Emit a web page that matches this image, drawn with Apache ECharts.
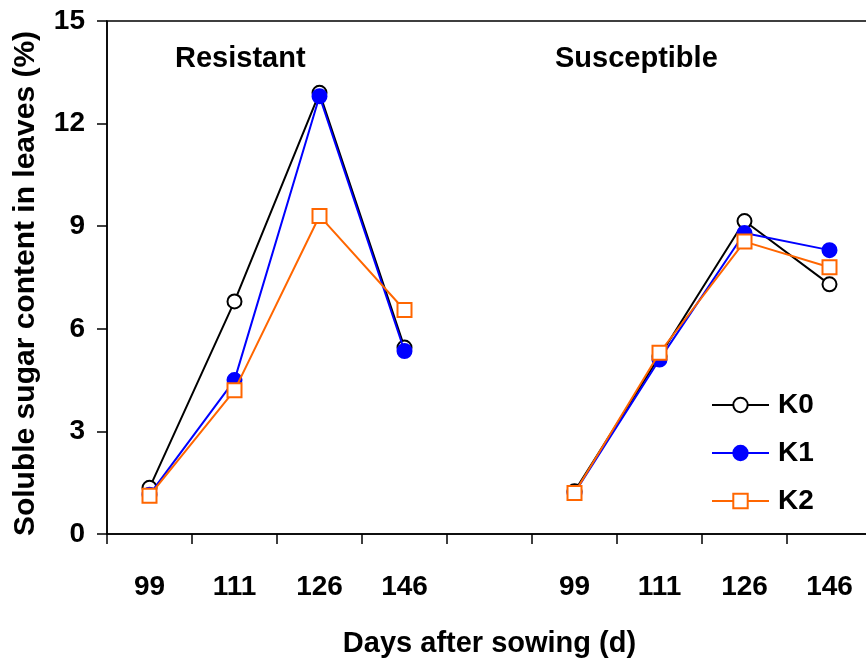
<!DOCTYPE html>
<html>
<head>
<meta charset="utf-8">
<script src="https://cdn.jsdelivr.net/npm/echarts@6/dist/echarts.min.js"></script>
<style>
html,body{margin:0;padding:0;background:#fff;}
#chart{width:866px;height:662px;}
</style>
</head>
<body>
<div id="chart"></div>
<script>
// Days after sowing; empty slot separates the two cultivar groups
const categories = ['99', '111', '126', '146', '', '99', '111', '126', '146'];
const seriesNames = ['K0', 'K1', 'K2'];
const groupLabels = ['Resistant', 'Susceptible'];

// Resistant cultivar
const resistantK0 = [1.35, 6.8, 12.9, 5.45];
const resistantK1 = [1.15, 4.5, 12.8, 5.35];
const resistantK2 = [1.12, 4.2, 9.3, 6.55];

// Susceptible cultivar
const susceptibleK0 = [1.25, 5.2, 9.15, 7.3];
const susceptibleK1 = [1.2, 5.1, 8.8, 8.3];
const susceptibleK2 = [1.2, 5.3, 8.55, 7.8];

const yTicks = [0, 3, 6, 9, 12, 15];

const FONT = '"Liberation Sans", Arial, sans-serif';

function join(a, b) { return a.concat([null], b); }

const styles = [
  {symbol: 'emptyCircle', color: '#000000'},
  {symbol: 'circle', color: '#0000ff'},
  {symbol: 'emptyRect', color: '#ff6600'}
];
const values = [
  join(resistantK0, susceptibleK0),
  join(resistantK1, susceptibleK1),
  join(resistantK2, susceptibleK2)
];

const chart = echarts.init(document.getElementById('chart'), null, {renderer: 'canvas'});
chart.setOption({
  animation: false,
  backgroundColor: '#fff',
  grid: {
    left: 107, top: 21, width: 765, bottom: 128,
    outerBoundsMode: 'none',
    containLabel: false,
    show: true, borderColor: '#000', borderWidth: 1.5, backgroundColor: 'transparent'
  },
  xAxis: {
    type: 'category',
    data: categories,
    boundaryGap: true,
    axisLine: {lineStyle: {color: '#000', width: 1.5}},
    axisTick: {show: true, length: 10, inside: false, lineStyle: {color: '#000', width: 1.5}},
    axisLabel: {color: '#000', fontFamily: FONT, fontWeight: 'bold', fontSize: 28, margin: 39, interval: 0},
    splitLine: {show: false},
    name: 'Days after sowing (d)',
    nameLocation: 'middle',
    nameGap: 95,
    nameTextStyle: {color: '#000', fontFamily: FONT, fontWeight: 'bold', fontSize: 29}
  },
  yAxis: {
    type: 'value',
    min: yTicks[0], max: yTicks[yTicks.length - 1], interval: 3,
    axisLine: {show: true, lineStyle: {color: '#000', width: 1.5}},
    axisTick: {show: true, length: 10, inside: false, lineStyle: {color: '#000', width: 1.5}},
    axisLabel: {color: '#000', fontFamily: FONT, fontWeight: 'bold', fontSize: 28, margin: 22},
    splitLine: {show: false},
    name: 'Soluble sugar content in leaves (%)',
    nameLocation: 'middle',
    nameGap: 66,
    nameTextStyle: {color: '#000', fontFamily: FONT, fontWeight: 'bold', fontSize: 30, padding: [0, 12, 0, 0]}
  },
  legend: {
    orient: 'vertical',
    left: 711, top: 391, padding: 0,
    itemWidth: 57, itemHeight: 18, itemGap: 20,
    textStyle: {color: '#000', fontFamily: FONT, fontWeight: 'bold', fontSize: 28, padding: [0, 0, 0, 4]},
    data: seriesNames
  },
  graphic: [
    {type: 'text', left: 175, top: 44, style: {text: groupLabels[0], fill: '#000', font: 'bold 29px ' + FONT}},
    {type: 'text', left: 555, top: 44, style: {text: groupLabels[1], fill: '#000', font: 'bold 29px ' + FONT}}
  ],
  series: seriesNames.map((n, i) => ({
    name: n,
    type: 'line',
    data: values[i],
    connectNulls: false,
    symbol: styles[i].symbol,
    symbolSize: 14,
    showAllSymbol: true,
    color: styles[i].color,
    lineStyle: {color: styles[i].color, width: 2},
    itemStyle: {color: styles[i].color, borderColor: styles[i].color, borderWidth: 2},
    emphasis: {disabled: true},
    z: 2 + i
  }))
});
</script>
</body>
</html>
